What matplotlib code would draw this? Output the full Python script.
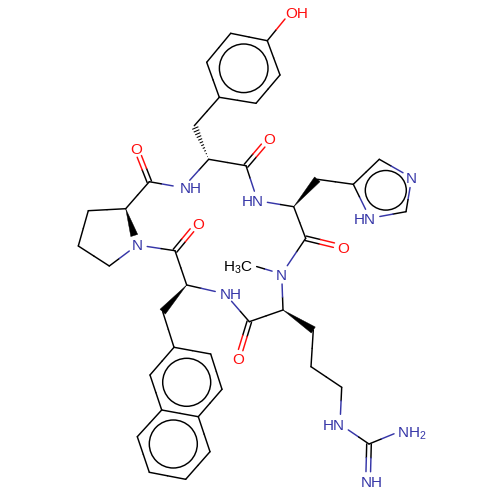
import numpy as np
import matplotlib
matplotlib.use("Agg")
import matplotlib.pyplot as plt
from matplotlib.patches import Polygon, Ellipse

plt.rcParams['font.family'] = ['Liberation Sans', 'DejaVu Sans']
plt.rcParams['mathtext.default'] = 'regular'

NAVY = '#3636a8'
RED = '#ff0d0d'
LW = 1.05

# Atom name -> (x, y), in pixels, plus element
atoms = {
    'O1': (290.7, 12, 'O'), 'a1': (267.3, 40.7, 'C'), 'a2': (230.7, 33.3, 'C'), 'a3': (206.7, 62.3, 'C'),
    'a4': (219.3, 97.3, 'C'), 'a5': (256, 103.3, 'C'), 'a6': (280, 75, 'C'),
    'b1': (194.3, 125.7, 'C'), 'c1': (208.7, 159.3, 'C'), 'c2': (246, 165.7, 'C'), 'O2': (269, 138.7, 'O'),
    'N1': (257.5, 200.7, 'N'), 'N2': (183, 187.7, 'N'),
    'd1': (293.7, 206.7, 'C'), 'd2': (317.3, 179.3, 'C'), 'e1': (353.3, 184.3, 'C'), 'e2': (379.3, 159.3, 'C'),
    'N3': (411.7, 177.7, 'N'), 'e3': (406, 211.7, 'C'), 'N4': (370, 218.3, 'N'),
    'd3': (305.7, 238.3, 'C'), 'O3': (342.7, 247.3, 'O'),
    'f1': (149.3, 181.7, 'C'), 'O4': (136, 148, 'O'), 'f2': (125.7, 208.7, 'C'), 'f3': (88.3, 210.7, 'C'),
    'f4': (78.3, 246, 'C'), 'f5': (109.3, 266, 'C'), 'N5': (137.3, 245, 'N'),
    'g1': (175, 250.7, 'C'), 'O5': (197.7, 223.3, 'O'), 'g2': (186.7, 285, 'C'), 'N6': (225, 293.7, 'N'),
    'g3': (162.7, 311.7, 'C'),
    'h1': (174, 347.3, 'C'), 'h2': (210.7, 354, 'C'), 'h3': (222, 389.3, 'C'), 'h4': (198.3, 416.7, 'C'),
    'h5': (161.7, 410, 'C'), 'h6': (150, 375, 'C'), 'h7': (210, 451.7, 'C'), 'h8': (185.7, 479.3, 'C'),
    'h9': (149.3, 472.3, 'C'), 'h10': (137.3, 436.7, 'C'),
    'i1': (249.3, 321.7, 'C'), 'O6': (238, 358.7, 'O'), 'i2': (283, 310, 'C'), 'N7': (281.7, 274, 'N'),
    'Me': (248, 264, 'M'),
    'j1': (313.3, 330, 'C'), 'j2': (311, 366.7, 'C'), 'j3': (341.7, 387.3, 'C'),
    'N8': (340, 424.3, 'N'), 'k1': (369, 444, 'C'), 'N9': (403.3, 430, 'N'), 'N10': (368, 481.7, 'N'),
}
single_bonds = [
    ('a1', 'O1'), ('a1', 'a2'), ('a2', 'a3'), ('a3', 'a4'), ('a4', 'a5'), ('a5', 'a6'), ('a6', 'a1'),
    ('a4', 'b1'), ('c1', 'c2'), ('c2', 'N1'), ('N1', 'd1'), ('c1', 'N2'), ('N2', 'f1'),
    ('d2', 'e1'), ('e1', 'e2'), ('e2', 'N3'), ('N3', 'e3'), ('e3', 'N4'), ('N4', 'e1'),
    ('d1', 'd3'), ('d3', 'N7'), ('f1', 'f2'), ('f2', 'f3'), ('f3', 'f4'), ('f4', 'f5'), ('f5', 'N5'),
    ('N5', 'g1'), ('g1', 'g2'), ('g2', 'N6'), ('N6', 'i1'), ('g3', 'h1'),
    ('h1', 'h2'), ('h2', 'h3'), ('h3', 'h4'), ('h4', 'h5'), ('h5', 'h6'), ('h6', 'h1'),
    ('h4', 'h7'), ('h7', 'h8'), ('h8', 'h9'), ('h9', 'h10'), ('h10', 'h5'),
    ('i1', 'i2'), ('i2', 'N7'), ('N7', 'Me'), ('j1', 'j2'), ('j2', 'j3'), ('j3', 'N8'),
    ('N8', 'k1'), ('k1', 'N9'),
]
double_bonds = [('c2', 'O2'), ('d3', 'O3'), ('f1', 'O4'), ('g1', 'O5'), ('i1', 'O6'), ('k1', 'N10')]
solid_wedges = [('d1', 'd2'), ('f2', 'N5'), ('g2', 'g3'), ('i2', 'j1')]
hashed_wedges = [('c1', 'b1')]
# ring circle: centre x, centre y, x radius, y radius
aromatic_x = [243.7, 385.8, 186.7, 173.3]
aromatic_y = [68.3, 190.3, 382.3, 444]
aromatic_rx = [24.3, 20.5, 24, 24]
aromatic_ry = [24.3, 19.8, 24, 24]
labels = [
    ('OH', 297, 13, RED), ('O', 269, 138.7, RED), ('NH', 191, 187.7, NAVY), ('HN', 252.3, 200.7, NAVY),
    ('N', 411.7, 177.7, NAVY), ('HN', 364.3, 218.3, NAVY), ('O', 342.7, 247.3, RED), ('O', 136, 148, RED),
    ('N', 137.3, 245, NAVY), ('O', 197.7, 223.3, RED), ('NH', 231, 293.7, NAVY), ('O', 238, 358.7, RED),
    ('N', 281.7, 274, NAVY), ('H$_3$C', 238.3, 265.5, 'black'), ('HN', 334, 424.3, NAVY),
    ('NH$_2$', 411.3, 432, NAVY), ('NH', 372, 481.7, NAVY),
]
trim = {'C': 0, 'N': 10, 'O': 9, 'M': 9}
colour = {'C': 'black', 'N': NAVY, 'O': RED, 'M': 'black'}

fig = plt.figure(figsize=(5, 5), dpi=100)
ax = fig.add_axes([0, 0, 1, 1])
ax.set_xlim(0, 500)
ax.set_ylim(500, 0)
ax.axis('off')


def xy(name):
    return np.array(atoms[name][:2], dtype=float)


def ends(a, b):
    p, q = xy(a), xy(b)
    u = (q - p) / np.linalg.norm(q - p)
    return p + u * trim[atoms[a][2]], q - u * trim[atoms[b][2]], u


def stroke(p, q, a, b):
    m = (p + q) / 2
    ax.plot([p[0], m[0]], [p[1], m[1]], color=colour[atoms[a][2]], lw=LW, solid_capstyle='round')
    ax.plot([m[0], q[0]], [m[1], q[1]], color=colour[atoms[b][2]], lw=LW, solid_capstyle='round')


for a, b in single_bonds:
    p, q, _ = ends(a, b)
    stroke(p, q, a, b)

for a, b in double_bonds:
    p, q, u = ends(a, b)
    n = np.array([-u[1], u[0]]) * 2.3
    stroke(p + n, q + n, a, b)
    stroke(p - n, q - n, a, b)

for a, b in solid_wedges:
    p, q, u = ends(a, b)
    n = np.array([-u[1], u[0]]) * 3.6
    ax.add_patch(Polygon([p, q + n, q - n], closed=True, fc='black', ec='black', lw=0.3))

for a, b in hashed_wedges:
    p, q, u = ends(a, b)
    n = np.array([-u[1], u[0]])
    length = np.linalg.norm(q - p)
    for d in np.arange(3.0, length + 0.1, 3.1):
        c = p + u * d
        w = 3.6 * d / length
        ax.plot([c[0] - n[0] * w, c[0] + n[0] * w], [c[1] - n[1] * w, c[1] + n[1] * w],
                color='black', lw=0.75, solid_capstyle='butt')

for cx, cy, rx, ry in zip(aromatic_x, aromatic_y, aromatic_rx, aromatic_ry):
    ax.add_patch(Ellipse((cx, cy), 2 * rx, 2 * ry, fc='none', ec='black', lw=LW))

for text, x, y, col in labels:
    ax.text(x, y, text, color=col, fontsize=11, ha='center', va='center_baseline', zorder=5)

fig.savefig('out.png', dpi=100)
